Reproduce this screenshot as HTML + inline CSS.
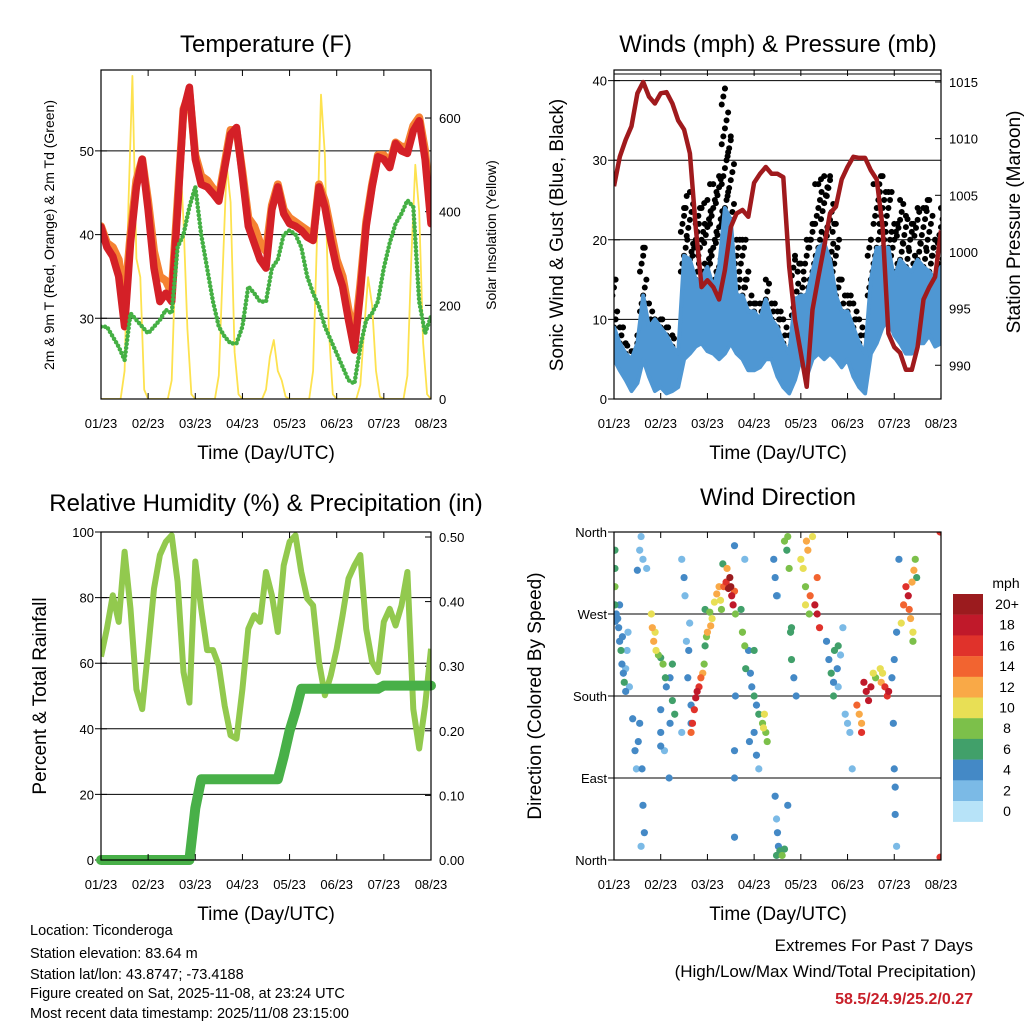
<!DOCTYPE html>
<html><head><meta charset="utf-8">
<style>
html,body{margin:0;padding:0;background:#fff;}
svg{display:block;font-family:"Liberation Sans",Arial,sans-serif;}
</style></head>
<body>
<svg id="chart" xmlns="http://www.w3.org/2000/svg" width="1024" height="1024" viewBox="0 0 1024 1024">
<defs>
<clipPath id="cTL"><rect x="101" y="70" width="330" height="329"/></clipPath>
<clipPath id="cTR"><rect x="614" y="70" width="327" height="329"/></clipPath>
<clipPath id="cBL"><rect x="101" y="532" width="330" height="328"/></clipPath>
<clipPath id="cBR"><rect x="614" y="532" width="327" height="328"/></clipPath>
</defs>
<rect width="1024" height="1024" fill="#fff"/>
<text x="266" y="52" font-size="24" text-anchor="middle">Temperature (F)</text>
<text x="778" y="52" font-size="24" text-anchor="middle">Winds (mph) &amp; Pressure (mb)</text>
<text x="266" y="511" font-size="24" text-anchor="middle">Relative Humidity (%) &amp; Precipitation (in)</text>
<text x="778" y="505" font-size="24" text-anchor="middle">Wind Direction</text>
<text x="266" y="459" font-size="19" text-anchor="middle">Time (Day/UTC)</text>
<text x="778" y="459" font-size="19" text-anchor="middle">Time (Day/UTC)</text>
<text x="266" y="920" font-size="19" text-anchor="middle">Time (Day/UTC)</text>
<text x="778" y="920" font-size="19" text-anchor="middle">Time (Day/UTC)</text>
<text transform="translate(54,235) rotate(-90)" font-size="14" text-anchor="middle">2m &amp; 9m T (Red, Orange) &amp; 2m Td (Green)</text>
<text transform="translate(496,235) rotate(-90)" font-size="14" text-anchor="middle">Solar Insolation (Yellow)</text>
<text transform="translate(563,235) rotate(-90)" font-size="19" text-anchor="middle">Sonic Wind &amp; Gust (Blue, Black)</text>
<text transform="translate(1020,222) rotate(-90)" font-size="19" text-anchor="middle">Station Pressure (Maroon)</text>
<text transform="translate(46,696) rotate(-90)" font-size="19" text-anchor="middle">Percent &amp; Total Rainfall</text>
<text transform="translate(541,696) rotate(-90)" font-size="19" text-anchor="middle">Direction (Colored By Speed)</text>
<g font-size="14.5">
<text x="30" y="935">Location: Ticonderoga</text>
<text x="30" y="958">Station elevation: 83.64 m</text>
<text x="30" y="979">Station lat/lon: 43.8747; -73.4188</text>
<text x="30" y="998">Figure created on Sat, 2025-11-08, at 23:24 UTC</text>
<text x="30" y="1018">Most recent data timestamp: 2025/11/08 23:15:00</text>
</g>
<text x="973" y="951" font-size="17" text-anchor="end">Extremes For Past 7 Days</text>
<text x="976" y="977" font-size="17" text-anchor="end">(High/Low/Max Wind/Total Precipitation)</text>
<text x="973" y="1004" font-size="16" font-weight="bold" fill="#c8202a" text-anchor="end">58.5/24.9/25.2/0.27</text>
<g id="layer"></g>
</svg>
<script>
// ---- data (step 1/8 day unless noted) ----
const dayLabels = ["01/23","02/23","03/23","04/23","05/23","06/23","07/23","08/23"];
const tempTicks = [30,40,50];
const solarTicks = [0,200,400,600];
const windTicks = [0,10,20,30,40];
const presTicks = [990,995,1000,1005,1010,1015];
const rhTicks = [0,20,40,60,80,100];
const precipTicks = ["0.00","0.10","0.20","0.30","0.40","0.50"];
const dirTicks = ["North","East","South","West","North"];
const speedBins = ["0","2","4","6","8","10","12","14","16","18","20+"];
const tempRed = [40.9,38.5,37.4,35,29,39,45.7,49,43,36,32,33,32,43,54.8,57.6,49,46,45.7,44.9,44,48,52,52.8,47,41,39,37,36,43,45.7,42.5,41.3,41,40.5,39.7,39.3,45.7,43.3,39.3,36,33.8,29.8,26.2,33,41,45.7,49.3,49,48,50.9,50,49.7,52.4,53.6,49,41.3];
const tempOrange = [41,39,38.5,37,32,40,46.5,49,44,38,35,34.5,33,44,55,57,49.5,47,46.5,45.5,44.5,48.5,52.5,52.5,47.5,42,41,39,38,43.5,46,43,42,41.5,41,40.5,39.5,46,44,40.5,37,35,31,27.5,34,41.5,46,49.5,49.5,48.5,51,50.5,50.5,53,54,50,42];
const dewpoint = [29,29,27.8,26.6,25,30.6,29.8,29,28.2,29,29.8,31,30.6,38.5,40,43.3,45.7,40,36,32,29,27.8,27,27,29,33.8,33,32,32,36,37,40,40.5,40,38.5,35,33,31.4,29,27.4,25.8,24.2,22.6,22.2,26.6,29.8,30.6,32,36,39,41.3,42.5,44.1,43.3,32,28.2,30.2];
// solar: step 1/12 day
const solar = [0,0,0,0,0,0,60,420,690,300,260,20, 0,0,0,0,0,0,40,300,540,380,150,10, 0,0,0,0,0,0,50,280,500,420,100,10, 0,0,0,0,0,0,20,90,126,60,40,5, 0,0,0,0,0,0,60,350,650,520,150,10, 0,0,0,0,0,0,30,150,260,200,60,5, 0,0,0,0,0,0,50,300,500,400,120,10, 0];
const pressure = [1005.8,1008.4,1009.9,1011.1,1014,1015,1013.7,1013.1,1014,1014.1,1013.1,1011.6,1010.8,1008.7,1002.2,996.9,997.5,996.9,995.8,998.4,1002.2,1003.4,1003.7,1003.1,1006.1,1006.9,1007.5,1006.9,1006.9,1006.6,998.7,994,991.1,988.1,994.9,997.8,1000.5,1003.4,1004,1006.4,1007.5,1008.4,1008.3,1008.3,1007.2,1006.4,1002.2,992.8,991.6,991.1,989.6,989.6,991.6,995.8,996.9,997.8,1001.9];
const windLow = [5,3.6,2.4,1,2,5,2.8,1,1.5,0.7,1,1.5,5,5.7,6.6,7,6,5.7,5,5.7,7,5.7,5,3.6,3.6,4,5,5,2.8,1.5,0.7,2.4,5,2.8,5,5.7,5,5.7,5,4,5,2.8,1.5,0.7,5.7,7,9,10,8,7,5.7,5.7,7,7,8,6.6,7];
const windHigh = [9,7,5.7,5,7,13,9,10,9,8,6.6,5.7,18,17.5,15,15,16.6,14,16.6,24,22.5,13,13,11,11,10,12.5,10,9,7,5.7,12.5,13,13,16,19,19.6,17.5,13,11,11,9,7,5.7,15,19,19,19,15,17.5,16.6,16,17.5,16.6,16,15,16.6];
const gust = [15,9,7,6,8,19,12,10,10,9,8,6,24,26,22,24,25,27,28,39,33,20,20,16,12,12,15,12,11,10,8,18,17,20,22,27,28,28,22,15,13,12,10,8,20,27,28,26,22,25,23,22,24,24,25,20,24];
const rh = [62,70.5,80.7,72.6,94,76.6,52,46,64,82.7,93,97,99,84.8,57.3,48,91,76.6,64,64,59.3,47,38,37,52,70.5,74.6,72.6,87.8,80.7,69.5,89.8,97,99,87.8,79.7,77.6,60.4,50.2,56.3,64.4,74.6,85.8,89.8,93,70.5,60.4,57.3,72.6,76.6,71.5,77.6,87.8,46,34,47,64.4];
const precip = [0,0,0,0,0,0,0,0,0,0,0,0,0,0,0,0,0.08,0.125,0.125,0.125,0.125,0.125,0.125,0.125,0.125,0.125,0.125,0.125,0.125,0.125,0.125,0.16,0.2,0.23,0.265,0.265,0.265,0.265,0.265,0.265,0.265,0.265,0.265,0.265,0.265,0.265,0.265,0.265,0.27,0.27,0.27,0.27,0.27,0.27,0.27,0.27,0.27];
// wind direction obs: [day, degrees, mph]
const dirObsA = [[0.02,340,5],[0.02,320,6],[0.02,300,7],[0.02,280,6],[0.03,262,4],[0.05,270,4],[0.08,265,3],[0.1,255,4],[0.12,240,4],[0.15,230,5],[0.17,215,3],[0.2,205,4],[0.22,195,6],[0.25,210,2],[0.28,230,2],[0.3,250,2],[0.18,245,3],[0.25,185,3],[0.12,280,3],[0.33,190,2],[0.4,155,3],[0.45,120,4],[0.48,100,2],[0.52,130,4],[0.55,150,4],[0.6,100,3],[0.62,60,4],[0.65,30,4],[0.58,15,2],[0.55,340,2],[0.58,355,2],[0.62,330,2],[0.7,320,2],[0.5,318,3]];
const dirObsB = [[0.8,270,10],[0.82,255,11],[0.85,240,12],[0.88,250,10],[0.9,230,9],[0.95,225,7],[1.0,222,6],[1.05,215,7],[1.1,200,5],[1.12,190,4],[1.0,165,4],[1.0,140,3],[1.0,125,4],[1.08,120,2],[1.2,200,4],[1.25,215,6],[1.25,175,5],[1.3,160,6],[1.18,90,3],[1.2,150,3],[1.45,330,2],[1.5,310,3],[1.52,290,2],[1.55,240,2],[1.6,230,3],[1.58,200,4],[1.65,170,3],[1.65,150,4],[1.45,140,2],[1.62,260,2]];
const dirObsC = [[1.65,140,14],[1.68,150,15],[1.72,165,16],[1.75,178,17],[1.78,185,18],[1.82,190,16],[1.86,200,14],[1.9,205,12],[1.93,215,8],[1.95,235,6],[1.98,245,8],[2.0,250,11],[1.95,275,6],[2.05,272,8],[2.07,257,12],[2.1,265,10],[2.15,283,9],[2.2,292,11],[2.25,300,12],[2.28,285,10],[2.3,275,8],[2.35,300,14],[2.4,305,15],[2.45,298,19],[2.48,310,21],[2.5,300,20],[2.52,290,18],[2.55,280,17],[2.58,295,14],[2.42,320,12],[2.33,325,6],[2.6,270,8],[2.58,90,3],[2.58,25,4],[2.58,345,4],[2.6,180,3],[2.58,120,3]];
const dirObsD = [[2.72,275,6],[2.75,250,8],[2.8,235,7],[2.82,210,5],[2.88,230,4],[2.92,205,4],[2.95,190,4],[3.0,180,5],[3.05,170,3],[3.1,160,6],[3.18,150,8],[3.2,145,10],[3.22,160,9],[3.25,140,8],[3.28,130,7],[3.0,230,6],[3.0,140,3],[2.9,130,3],[3.1,100,2],[2.8,330,2],[3.05,115,4],[3.42,330,3],[3.45,310,3],[3.48,290,4],[3.5,290,2],[3.45,70,3],[3.48,45,2],[3.5,30,3],[3.52,15,4],[3.55,10,6],[3.48,5,5],[3.6,5,7],[3.65,12,6],[3.7,340,6],[3.72,355,7],[3.65,350,8],[3.75,320,8],[3.78,250,6],[3.8,220,5],[3.72,60,3]];
const dirObsE = [[3.85,200,4],[3.9,180,3],[3.8,255,5],[4.0,330,10],[4.05,320,9],[4.1,300,8],[4.12,350,11],[4.15,340,12],[4.1,280,10],[4.18,270,8],[4.2,290,14],[4.3,280,18],[4.35,270,17],[4.4,255,16],[4.35,310,13],[4.25,355,10]];
const dirObsF = [[4.55,240,3],[4.6,220,4],[4.65,205,5],[4.7,195,4],[4.72,230,6],[4.78,210,3],[4.8,190,2],[4.7,180,6],[4.8,235,5],[4.85,225,2],[4.9,255,2],[4.95,160,2],[5.0,150,2],[5.05,140,2],[5.1,100,2],[5.2,170,13],[5.25,160,12],[5.3,150,11],[5.3,140,15],[5.35,195,17],[5.4,185,18],[5.45,175,17],[5.5,190,18],[5.55,205,10],[5.6,200,8],[5.7,210,10],[5.72,195,12],[5.8,190,15],[5.85,180,16],[5.88,185,17],[5.75,205,9]];
const dirObsG = [[5.95,200,4],[5.98,150,4],[6.0,100,4],[6.02,80,3],[6.02,50,4],[6.05,15,2],[6.0,220,4],[6.15,260,10],[6.2,280,13],[6.25,300,15],[6.3,290,17],[6.32,275,14],[6.35,265,12],[6.4,250,10],[6.38,305,12],[6.42,318,11],[6.45,330,8],[6.4,240,7],[6.48,310,6],[6.98,360,16],[6.98,3,16],[6.1,330,3],[6.05,250,4]];

// ---- scales ----
const NS = "http://www.w3.org/2000/svg";
const layer = document.getElementById('layer');
const binColors = ["#b7e3f8","#7bbae6","#4489c6","#41a06a","#7cc04a","#e8df55","#f9a947","#f26430","#e0322b","#c0192a","#9b1b1e"];
function mk(tag, attrs, parent){const e=document.createElementNS(NS,tag);for(const k in attrs)e.setAttribute(k,attrs[k]);(parent||layer).appendChild(e);return e;}
const xL = d => 101 + d*47.14;
const xR = d => 614 + d*46.71;
const yTemp = v => 318.3 - (v-30)*8.37;
const ySolar = v => 399 - v*0.4683;
const yWind = v => 399 - v*7.96;
const yPres = v => 82 - (v-1015)*11.33;
const yRH = v => 860 - v*3.28;
const yPrecip = v => 860 - v*646;
const yDir = v => 860 - v*0.9111;
function pts(arr, step, xf, yf){return arr.map((v,i)=>xf(i*step).toFixed(1)+','+yf(v).toFixed(1)).join(' ');}
function colorFor(s){let i=Math.round(s/2);if(i<0)i=0;if(i>10)i=10;return binColors[i];}

// ---- frames, grids, ticks ----
function frame(name, x0,y0,x1,y1, xf){
  const g=mk('g',{});
  
  
  dayLabels.forEach((lab,i)=>{
    const x=xf(i);
    mk('line',{x1:x,y1:y1,x2:x,y2:y1-6,stroke:'#000','stroke-width':1},g);
    mk('line',{x1:x,y1:y0,x2:x,y2:y0+6,stroke:'#000','stroke-width':1},g);
    const t=mk('text',{x:x,y:y1+29,'font-size':13,'text-anchor':'middle'},g);
    t.textContent=lab;
    
    
  });
  const r=mk('rect',{x:x0,y:y0,width:x1-x0,height:y1-y0,fill:'none',stroke:'#000','stroke-width':1.2},g);
  
  
  return g;
}
function yTicksLeft(name, vals, yf, x0, x1, labels, grid){
  vals.forEach((v,i)=>{
    const y=yf(v);
    if(grid) mk('line',{x1:x0-6,y1:y,x2:x1,y2:y,stroke:'#000','stroke-width':1});
    mk('line',{x1:x0,y1:y,x2:x0+6,y2:y,stroke:'#000'});
    const t=mk('text',{x:x0-7,y:y+5,'font-size':13,'text-anchor':'end'});
    t.textContent=labels?labels[i]:v;
    
    
  });
}
function yTicksRight(name, vals, yf, x1, labels){
  vals.forEach((v,i)=>{
    const y=yf(v);
    mk('line',{x1:x1,y1:y,x2:x1-6,y2:y,stroke:'#000'});
    const t=mk('text',{x:x1+8,y:y+5,'font-size':13,'text-anchor':'start'});
    t.textContent=labels?labels[i]:v;
    
    
  });
}

// ---- TOP LEFT: temperature ----
yTicksLeft('temp-y', tempTicks, yTemp, 101, 431, null, true);
yTicksRight('solar-y', solarTicks, ySolar, 431, null);
const gTL=mk('g',{'clip-path':'url(#cTL)'});


let e;
e=mk('polyline',{points:pts(solar,1/12,xL,ySolar),fill:'none',stroke:'#fde24f','stroke-width':1.8,'stroke-linejoin':'round'},gTL);


e=mk('polyline',{points:pts(tempOrange,1/8,xL,yTemp),fill:'none',stroke:'#f58232','stroke-width':8,'stroke-linejoin':'round','stroke-linecap':'round'},gTL);


e=mk('polyline',{points:pts(tempRed,1/8,xL,yTemp),fill:'none',stroke:'#d42027','stroke-width':7.5,'stroke-linejoin':'round','stroke-linecap':'round'},gTL);


e=mk('polyline',{points:pts(dewpoint,1/8,xL,yTemp),fill:'none',stroke:'#45b044','stroke-width':4.5,'stroke-dasharray':'0 4','stroke-linecap':'round'},gTL);


frame('temperature',101,70,431,399,xL);

// ---- TOP RIGHT: wind & pressure ----
yTicksLeft('wind-y', windTicks, yWind, 614, 941, null, true);
yTicksRight('pressure-y', presTicks, yPres, 941, null);
const gTR=mk('g',{'clip-path':'url(#cTR)'});


gust.forEach((g,i)=>{
  const x=xR(i/8);
  let n=0;
  for(let v=windHigh[i]-2; v<=g; v+=1.0){
    const c=mk('circle',{cx:x+((n%5)-2)*1.6,cy:yWind(v),r:3,fill:'#000'},gTR);
    
    
    n++;
  }
  const c2=mk('circle',{cx:x,cy:yWind(g),r:3,fill:'#000'},gTR);
  
  
});
const bandPts = windHigh.map((v,i)=>xR(i/8).toFixed(1)+','+yWind(v).toFixed(1)).concat(windLow.map((v,i)=>[i,v]).reverse().map(p=>xR(p[0]/8).toFixed(1)+','+yWind(p[1]).toFixed(1))).join(' ');
e=mk('polygon',{points:bandPts,fill:'#4f97d3',stroke:'#4f97d3','stroke-width':4,'stroke-linejoin':'round'},gTR);


e=mk('polyline',{points:pts(pressure,1/8,xR,yPres),fill:'none',stroke:'#a01a1d','stroke-width':4.5,'stroke-linejoin':'round'},gTR);


frame('winds',614,70,941,399,xR);
e=mk('line',{x1:614,y1:74,x2:941,y2:74,stroke:'#000','stroke-width':1});



// ---- BOTTOM LEFT: RH & precip ----
yTicksLeft('rh-y', rhTicks, yRH, 101, 431, null, true);
yTicksRight('precip-y', precipTicks.map(Number), yPrecip, 431, precipTicks);
const gBL=mk('g',{'clip-path':'url(#cBL)'});


e=mk('polyline',{points:pts(rh,1/8,xL,yRH),fill:'none',stroke:'#92c94e','stroke-width':6,'stroke-linejoin':'round'},gBL);


const gBL2=mk('g',{});


e=mk('polyline',{points:pts(precip,1/8,xL,yPrecip),fill:'none',stroke:'#48b048','stroke-width':10,'stroke-linejoin':'round','stroke-linecap':'round'},gBL2);


frame('humidity',101,532,431,860,xL);

// ---- BOTTOM RIGHT: wind direction ----
yTicksLeft('dir-y', [0,90,180,270,360], yDir, 614, 941, dirTicks, true);
const gBR=mk('g',{'clip-path':'url(#cBR)'});


[dirObsA,dirObsB,dirObsC,dirObsD,dirObsE,dirObsF,dirObsG].forEach(arr=>{
  arr.slice().sort((a,b)=>a[2]-b[2]).forEach(o=>{
    const c=mk('circle',{cx:xR(o[0]),cy:yDir(o[1]),r:3.6,fill:colorFor(o[2])},gBR);
    
    
  });
});
frame('direction',614,532,941,860,xR);

// legend
const gLeg=mk('g',{});


e=mk('text',{x:1006,y:588,'font-size':14,'text-anchor':'middle'},gLeg);
e.textContent='mph';


speedBins.slice().reverse().forEach((lab,i)=>{
  const y=594+i*20.7;
  const r=mk('rect',{x:953,y:y,width:30,height:20.9,fill:binColors[10-i]},gLeg);
  
  
  const t=mk('text',{x:1007,y:y+15,'font-size':14,'text-anchor':'middle'},gLeg);
  t.textContent=lab;
  
  
});
</script>
</body></html>
